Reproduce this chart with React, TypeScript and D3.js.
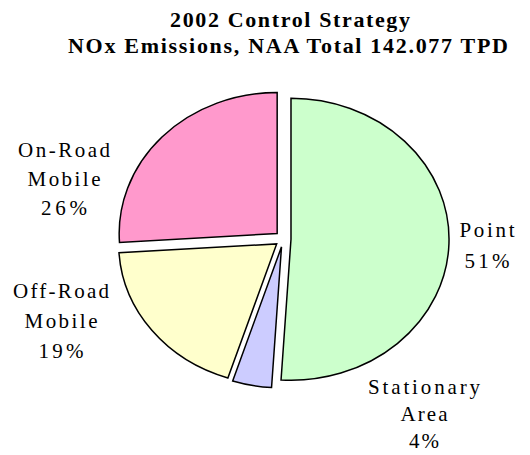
import React from "react";
import * as d3 from "d3";

const categories = ["Point", "Stationary Area", "Off-Road Mobile", "On-Road Mobile"];
const values = [51, 4, 19, 26];
const labelLines = [["Point", "51%"], ["Stationary", "Area", "4%"], ["Off-Road", "Mobile", "19%"], ["On-Road", "Mobile", "26%"]];
const colors = ["#CCFFCC", "#CCCCFF", "#FFFFCC", "#FF99CC"];
const titleLines = ["2002 Control Strategy", "NOx Emissions, NAA Total 142.077 TPD"];

// layout constants
const W = 530, H = 455;
const CX = 283, CY = 239, RX = 158, RY = 141, EXPLODE = 8;
const FONT = '"Nimbus Roman", "Nimbus Roman No9 L", "Liberation Serif", serif';
const labelLayout = [
  { x: 487, y: 237, dy: 31, widths: [55, 45] },
  { x: 424, y: 394, dy: 27, widths: [112, 47, 30] },
  { x: 61, y: 298, dy: 30, widths: [96, 73, 45] },
  { x: 64, y: 157, dy: 29, widths: [92, 73, 46] },
];
const titleLayout = [
  { x: 290, y: 27, w: 240 },
  { x: 288, y: 53, w: 440 },
];

export default function App() {
  const pie = d3.pie<number>().sort(null).value((d) => d).startAngle(0).endAngle(2 * Math.PI);
  const arcs = pie(values);
  const arcGen = d3.arc<d3.PieArcDatum<number>>().innerRadius(0).outerRadius(1);

  return (
    <svg width={W} height={H} style={{ position: "absolute", left: 0, top: 0, background: "#fff" }}>
      {titleLines.map((t, i) => (
        <text key={i} x={titleLayout[i].x} y={titleLayout[i].y} textAnchor="middle"
          fontFamily={FONT} fontSize={22} fontWeight="bold"
          textLength={titleLayout[i].w} lengthAdjust="spacing">{t}</text>
      ))}
      {arcs.map((a, i) => {
        const mid = (a.startAngle + a.endAngle) / 2;
        const dx = EXPLODE * Math.sin(mid);
        const dy = -EXPLODE * Math.cos(mid);
        return (
          <g key={categories[i]} transform={`translate(${CX + dx},${CY + dy}) scale(${RX},${RY})`}>
            <path d={arcGen(a) || ""} fill={colors[i]} stroke="#000" strokeWidth={1.5}
              vectorEffect="non-scaling-stroke" strokeLinejoin="miter" />
          </g>
        );
      })}
      {labelLines.map((lines, i) => (
        <g key={i}>
          {lines.map((ln, j) => (
            <text key={j} x={labelLayout[i].x} y={labelLayout[i].y + j * labelLayout[i].dy}
              textAnchor="middle" fontFamily={FONT} fontSize={21}
              textLength={labelLayout[i].widths[j]} lengthAdjust="spacing">{ln}</text>
          ))}
        </g>
      ))}
    </svg>
  );
}
